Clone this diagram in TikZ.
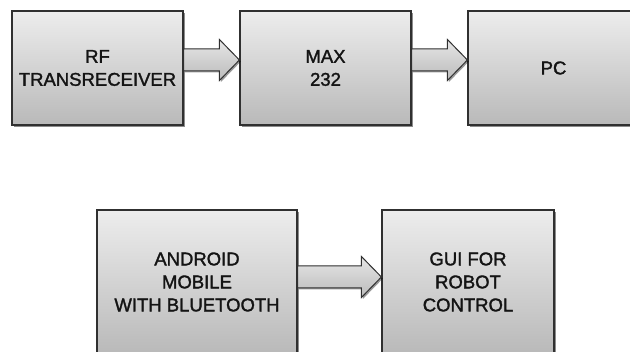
\documentclass[tikz,border=0pt]{standalone}
\usepackage{fontspec}
\setmainfont{Liberation Sans}
\newfontfamily\boxfont{Liberation Sans}[FakeBold=1.6]
\usetikzlibrary{shadows,calc}
\definecolor{boxtop}{HTML}{EDEDED}
\definecolor{boxbot}{HTML}{B9B9B9}
\definecolor{arrtop}{HTML}{E6E6E6}
\definecolor{arrbot}{HTML}{BBBBBB}
\definecolor{edge}{HTML}{303030}
\definecolor{txt}{HTML}{141414}
\tikzset{
  blockbox/.style={draw=edge, line width=1.2pt, top color=boxtop, bottom color=boxbot,
    drop shadow={shadow xshift=2pt, shadow yshift=-2pt, fill=black, opacity=0.45},
    align=center, text=txt, font={\boxfont\fontsize{18.5}{23}\selectfont}, inner sep=0pt},
  blockarrow/.style={draw=edge, line width=1pt, top color=arrtop, bottom color=arrbot,
    drop shadow={shadow xshift=1.5pt, shadow yshift=-1.5pt, fill=black, opacity=0.4}, line join=miter}
}
\newcommand{\fatarrow}[3]{%
  \coordinate (#1s) at ([yshift=#3]#1.east);
  \coordinate (#1t) at ([yshift=#3]#2.west);
  \path[blockarrow] ([yshift=11pt]#1s) -- ([shift={(-20pt,11pt)}]#1t) -- ([shift={(-20pt,20.5pt)}]#1t) -- (#1t)
    -- ([shift={(-20pt,-20.5pt)}]#1t) -- ([shift={(-20pt,-11pt)}]#1t) -- ([yshift=-11pt]#1s) -- cycle;
}
\begin{document}
\begin{tikzpicture}[x=1pt,y=-1pt]
\useasboundingbox (0,0) rectangle (630,352);
\node[blockbox, minimum width=171pt, minimum height=114pt] (rf) at (97.5,68) {RF\\TRANSRECEIVER};
\node[blockbox, minimum width=171pt, minimum height=114pt] (max) at (325.5,68) {MAX\\232};
\node[blockbox, minimum width=171pt, minimum height=114pt] (pc) at (553.5,68) {PC};
\node[blockbox, minimum width=200pt, minimum height=144pt] (and) at (197,282) {ANDROID\\MOBILE\\WITH BLUETOOTH};
\node[blockbox, minimum width=172pt, minimum height=144pt] (gui) at (468,282) {GUI FOR\\ROBOT\\CONTROL};
\fatarrow{rf}{max}{8pt}
\fatarrow{max}{pc}{8pt}
\fatarrow{and}{gui}{5pt}
\end{tikzpicture}
\end{document}
